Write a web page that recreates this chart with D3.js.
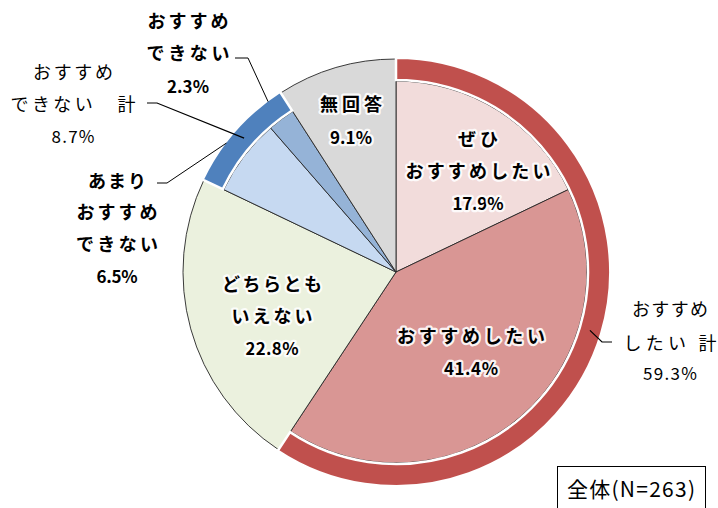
<!DOCTYPE html>
<html><head><meta charset="utf-8">
<script src="https://cdn.jsdelivr.net/npm/d3@7"></script>
<style>
html,body{margin:0;padding:0;background:#fff;}
svg{display:block;font-family:"Noto Sans CJK JP","Noto Sans",sans-serif;}
</style>
</head><body>
<svg id="chart" width="718" height="508"></svg>
<script>
// ---- data ----
const categories = ["ぜひ\nおすすめしたい", "おすすめしたい", "どちらとも\nいえない", "あまり\nおすすめ\nできない", "おすすめ\nできない", "無回答"];
const values = [17.9, 41.4, 22.8, 6.5, 2.3, 9.1];
const groupNames = ["おすすめ\nしたい 計", "おすすめ\nできない　計"];
const groupValues = [59.3, 8.7];
const groupMembers = [[0, 1], [3, 4]];
const sampleLabel = "全体(N=263)";

// ---- styles / layout ----
const sliceColors = ["#F2DCDB", "#D99694", "#EBF1DE", "#C6D9F1", "#95B3D7", "#D9D9D9"];
const ringColors = ["#C0504D", "#4F81BD"];
const cx = 396, cy = 272, R = 213, rIn = 191, ringIn = 192;

const labelLayout = [
  {x: 478, y: [138, 170, 202], w: [40, 145, 51], halo: true},
  {x: 471, y: [335, 367], w: [148, 54], halo: true},
  {x: 272, y: [283, 315, 347], w: [100, 81, 53], halo: true},
  {x: 117, y: [180, 211, 243, 275], w: [58, 81, 82, 41], halo: false},
  {x: 188, y: [20, 52, 85], w: [81, 83, 42], halo: false},
  {x: 351, y: [103, 136], w: [62, 42], halo: true}
];
const groupLayout = [
  {x: 670, y: [308, 342, 372], w: [76, 93, 54]},
  {x: 73, y: [71, 103, 135], w: [80, 125, 43]}
];
// leader lines: [elbow, end] in page coords; start is derived from arc geometry
const sliceLeaders = {3: [[167, 183], [157, 183]], 4: [[248, 58], [235, 58]]};
const groupLeaders = [[[602, 342], [612, 342]], [[157, 103], [147, 103]]];

const svg = d3.select("#chart");
const g = svg.append("g").attr("transform", `translate(${cx},${cy})`);

const pie = d3.pie().sort(null).value(d => d);
const arcs = pie(values);
const grouped = new Set(groupMembers.flat());
const arcGen = d3.arc();

g.selectAll("path.slice").data(arcs).join("path")
  .attr("class", "slice")
  .attr("d", (d, i) => arcGen({startAngle: d.startAngle, endAngle: d.endAngle, innerRadius: 0, outerRadius: grouped.has(i) ? rIn : R}))
  .attr("fill", (d, i) => sliceColors[i])
  .attr("stroke", "#262626")
  .attr("stroke-width", 0.9)
  .attr("stroke-linejoin", "round");

const groupArcs = groupMembers.map(m => ({startAngle: arcs[m[0]].startAngle, endAngle: arcs[m[m.length - 1]].endAngle}));
g.selectAll("path.ring").data(groupArcs).join("path")
  .attr("class", "ring")
  .attr("d", d => arcGen({startAngle: d.startAngle, endAngle: d.endAngle, innerRadius: ringIn, outerRadius: R + 1.3}))
  .attr("fill", (d, i) => ringColors[i])
  .attr("stroke", "#fff")
  .attr("stroke-width", 2.5);

function polar(a, r) { return [cx + r * Math.sin(a), cy - r * Math.cos(a)]; }
const line = d3.line();
Object.entries(sliceLeaders).forEach(([i, pts]) => {
  const d = arcs[+i];
  const start = polar((d.startAngle + d.endAngle) / 2, R);
  svg.append("path").attr("d", line([start, ...pts])).attr("fill", "none").attr("stroke", "#000").attr("stroke-width", 1);
});
groupLeaders.forEach((pts, gi) => {
  const d = groupArcs[gi];
  const start = polar((d.startAngle + d.endAngle) / 2, (ringIn + R) / 2);
  svg.append("path").attr("d", line([start, ...pts])).attr("fill", "none").attr("stroke", "#000").attr("stroke-width", 1.2);
});

function drawLabel(lines, lay, bold, halo) {
  lines.forEach((t, k) => {
    const isPct = k === lines.length - 1;
    const txt = svg.append("text")
      .attr("x", lay.x).attr("y", lay.y[k])
      .attr("text-anchor", "middle")
      .attr("dominant-baseline", "central")
      .attr("font-size", isPct ? 17 : 18)
      .attr("font-weight", bold ? 700 : 400)
      .attr("fill", "#000")
      .attr("textLength", lay.w[k])
      .attr("lengthAdjust", "spacing")
      .text(t);
    if (halo) {
      txt.attr("stroke", "#fff").attr("stroke-width", 4.5).attr("stroke-linejoin", "round")
        .attr("stroke-opacity", 0.9).attr("paint-order", "stroke");
    }
  });
}

categories.forEach((c, i) => {
  const lines = c.split("\n").concat([values[i].toFixed(1) + "%"]);
  drawLabel(lines, labelLayout[i], true, labelLayout[i].halo);
});
groupNames.forEach((n, i) => {
  const lines = n.split("\n").concat([groupValues[i].toFixed(1) + "%"]);
  drawLabel(lines, groupLayout[i], false, false);
});

svg.append("rect").attr("x", 557.5).attr("y", 466.5).attr("width", 148).attr("height", 60)
  .attr("fill", "#fff").attr("stroke", "#000").attr("stroke-width", 1);
svg.append("text").attr("x", 631).attr("y", 488)
  .attr("text-anchor", "middle").attr("dominant-baseline", "central")
  .attr("font-size", 21).attr("textLength", 128).attr("lengthAdjust", "spacing")
  .text(sampleLabel);
</script>
</body></html>
